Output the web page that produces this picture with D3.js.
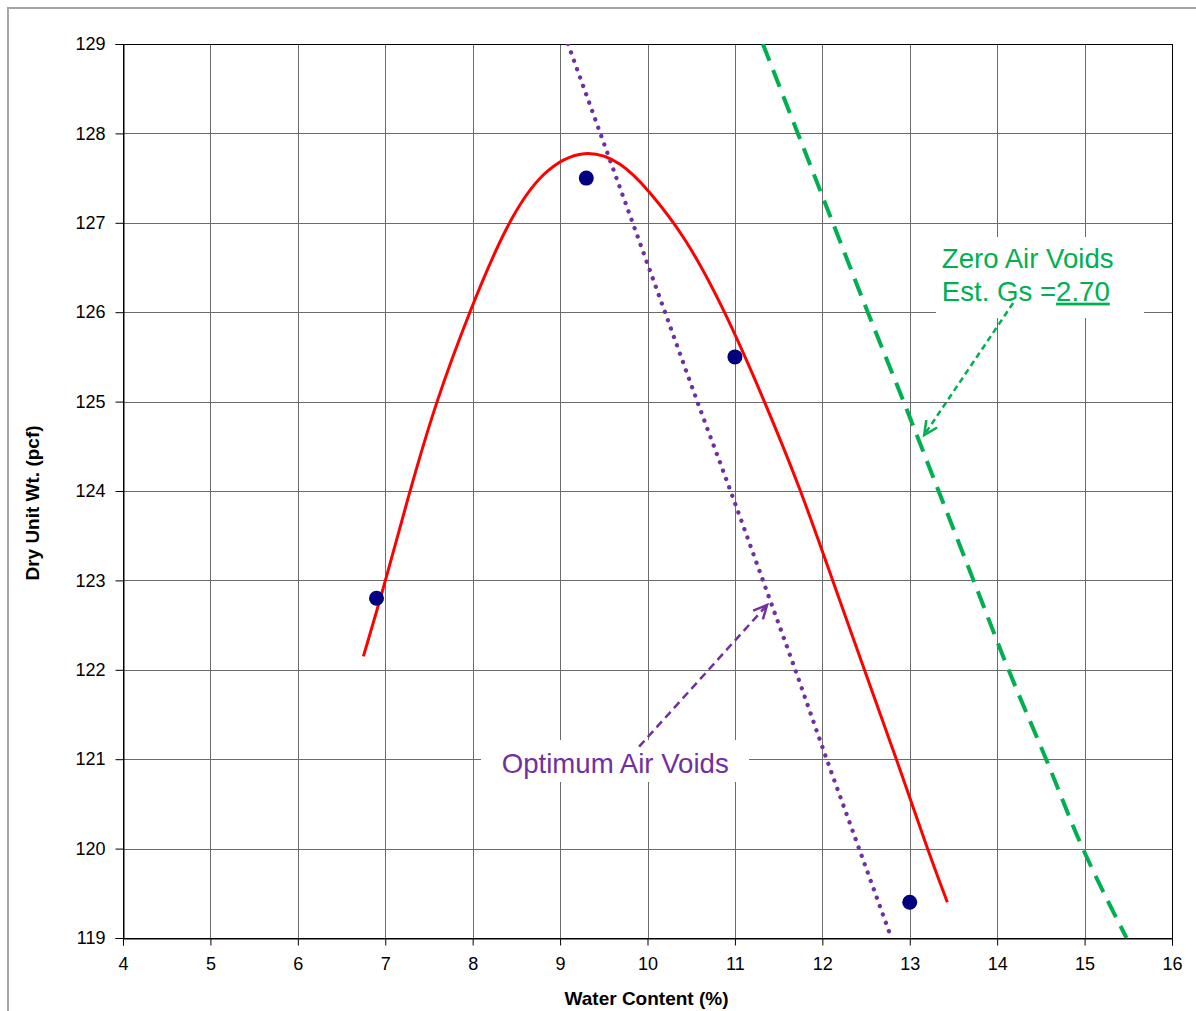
<!DOCTYPE html>
<html>
<head>
<meta charset="utf-8">
<script src="https://cdn.jsdelivr.net/npm/d3@7"></script>
<style>
  html, body { margin: 0; padding: 0; background: #fff; }
  svg { display: block; font-family: "Liberation Sans", Arial, sans-serif; }
</style>
</head>
<body>
<svg id="chart" width="1196" height="1011"></svg>
<script>
// ---------- data ----------
const xTicks = [4, 5, 6, 7, 8, 9, 10, 11, 12, 13, 14, 15, 16];
const yTicks = [119, 120, 121, 122, 123, 124, 125, 126, 127, 128, 129];

// test points
const waterContent = [6.9, 9.3, 11.0, 13.0];
const dryUnitWt    = [122.8, 127.5, 125.5, 119.4];

// fitted compaction curve
const fitW = [6.75, 7.0, 7.28, 7.58, 7.96, 8.39, 8.8, 9.29, 9.7, 10.0, 10.43, 10.87, 11.32, 11.74, 12.1, 12.48, 12.85, 13.2, 13.43];
const fitD = [122.15, 122.98, 124.0, 125.0, 126.0, 127.0, 127.6, 127.84, 127.68, 127.38, 126.85, 126.05, 125.05, 124.05, 123.05, 122.0, 121.0, 120.0, 119.4];

// optimum air voids line
const oavW = [9.09, 9.83, 10.2, 10.57, 10.95, 11.32, 11.69, 12.05, 12.42, 12.79];
const oavD = [129, 127, 126, 125, 124, 123, 122, 121, 120, 119];

// zero air voids line (Gs = 2.70)
const zavW = [11.32, 11.72, 12.12, 12.52, 12.93, 13.33, 13.73, 14.13, 14.56, 14.98, 15.48];
const zavD = [129, 128, 127, 126, 125, 124, 123, 122, 121, 120, 119];

// annotation texts
const zavLabelLines = ["Zero Air Voids", "Est. Gs ="];
const zavGs = "2.70";
const oavLabel = "Optimum Air Voids";
const xTitle = "Water Content (%)";
const yTitle = "Dry Unit Wt. (pcf)";

// ---------- layout ----------
const svg = d3.select("#chart");
const W = 1196, H = 1011;
const x = d3.scaleLinear().domain([4, 16]).range([123, 1172]);
const y = d3.scaleLinear().domain([119, 129]).range([938, 44]);

// outer chart-area border
svg.append("rect").attr("x", 8).attr("y", 8).attr("width", W + 20).attr("height", H + 20)
  .attr("fill", "#fff").attr("stroke", "#a6a6a6").attr("stroke-width", 2);

// grid
const grid = svg.append("g").attr("shape-rendering", "crispEdges");
grid.selectAll("line.v").data(xTicks.slice(1, -1)).join("line")
  .attr("x1", d => Math.round(x(d)) + 0.5).attr("x2", d => Math.round(x(d)) + 0.5)
  .attr("y1", y(129)).attr("y2", y(119)).attr("stroke", "#6b6b6b").attr("stroke-width", 1);
grid.selectAll("line.h").data(yTicks.slice(1, -1)).join("line")
  .attr("y1", d => Math.round(y(d)) + 0.5).attr("y2", d => Math.round(y(d)) + 0.5)
  .attr("x1", x(4)).attr("x2", x(16)).attr("stroke", "#6b6b6b").attr("stroke-width", 1);

// white label boxes (cover grid)
svg.append("rect").attr("x", x(13.30)).attr("y", y(126.841))
  .attr("width", x(15.68) - x(13.30)).attr("height", y(125.935) - y(126.841)).attr("fill", "#fff");
svg.append("rect").attr("x", x(8.096)).attr("y", y(121.215))
  .attr("width", x(11.162) - x(8.096)).attr("height", y(120.745) - y(121.215)).attr("fill", "#fff");

// plot frame
svg.append("rect").attr("x", x(4) + 0.5).attr("y", y(129) + 0.5)
  .attr("width", x(16) - x(4)).attr("height", y(119) - y(129))
  .attr("fill", "none").attr("stroke", "#000").attr("stroke-width", 1.2).attr("shape-rendering", "crispEdges");

// axes
const yAxis = d3.axisLeft(y).tickValues(yTicks).tickSize(8).tickPadding(10).tickFormat(d3.format("d"));
const xAxis = d3.axisBottom(x).tickValues(xTicks).tickSize(7).tickPadding(12).tickFormat(d3.format("d"));
const gy = svg.append("g").attr("transform", `translate(${x(4) + 0.5},0)`).call(yAxis);
const gx = svg.append("g").attr("transform", `translate(0,${y(119) + 0.5})`).call(xAxis);
[gx, gy].forEach(g => {
  g.select(".domain").attr("stroke", "#000");
  g.selectAll(".tick line").attr("stroke", "#000");
  g.selectAll(".tick text").attr("fill", "#000").style("font-size", "18px")
    .style("font-family", '"Liberation Sans", Arial, sans-serif');
});

// axis titles
svg.append("text").attr("x", (x(4) + x(16)) / 2 - 1).attr("y", 1005)
  .attr("text-anchor", "middle").style("font-size", "19px").style("font-weight", "bold").text(xTitle);
svg.append("text").attr("transform", `translate(39,503) rotate(-90)`)
  .attr("text-anchor", "middle").style("font-size", "19px").style("font-weight", "bold").text(yTitle);

// series
const line = d3.line().x(d => x(d[0])).y(d => y(d[1]));
svg.append("clipPath").attr("id", "plotclip").append("rect")
  .attr("x", x(4)).attr("y", y(129)).attr("width", x(16) - x(4)).attr("height", y(119) - y(129));

svg.append("path").datum(zavW.map((w, i) => [w, zavD[i]]))
  .attr("d", line.curve(d3.curveMonotoneY))
  .attr("fill", "none").attr("stroke", "#00B050").attr("stroke-width", 4)
  .attr("stroke-dasharray", "18,10").attr("clip-path", "url(#plotclip)");

svg.append("path").datum(oavW.map((w, i) => [w, oavD[i]]))
  .attr("d", line.curve(d3.curveMonotoneY))
  .attr("fill", "none").attr("stroke", "#7030A0").attr("stroke-width", 4.3)
  .attr("stroke-linecap", "round").attr("stroke-dasharray", "0.1,8.8").attr("clip-path", "url(#plotclip)");

svg.append("path").datum(fitW.map((w, i) => [w, fitD[i]]))
  .attr("d", line.curve(d3.curveBasis))
  .attr("fill", "none").attr("stroke", "#FF0000").attr("stroke-width", 3);

svg.selectAll("circle.pt").data(waterContent.map((w, i) => [w, dryUnitWt[i]])).join("circle")
  .attr("cx", d => x(d[0])).attr("cy", d => y(d[1])).attr("r", 7.5).attr("fill", "#000080");

// arrows
function arrow(x1, y1, x2, y2, color, dash) {
  const X1 = x(x1), Y1 = y(y1), X2 = x(x2), Y2 = y(y2);
  svg.append("line").attr("x1", X1).attr("y1", Y1).attr("x2", X2).attr("y2", Y2)
    .attr("stroke", color).attr("stroke-width", 2.5).attr("stroke-dasharray", dash);
  const ang = Math.atan2(Y2 - Y1, X2 - X1), L = 15, a = 0.45;
  const pts = [[X2 - L * Math.cos(ang - a), Y2 - L * Math.sin(ang - a)], [X2, Y2],
               [X2 - L * Math.cos(ang + a), Y2 - L * Math.sin(ang + a)]];
  svg.append("polyline").attr("points", pts.map(p => p.join(",")).join(" "))
    .attr("fill", "none").attr("stroke", color).attr("stroke-width", 2.5).attr("stroke-linejoin", "miter");
}
arrow(9.904, 121.14, 11.368, 122.725, "#7030A0", "8,5");
arrow(14.183, 126.103, 13.165, 124.626, "#00B050", "6,4");

// labels
svg.append("text").attr("x", x(8.333)).attr("y", y(120.846))
  .style("font-size", "27.6px").attr("fill", "#7030A0").text(oavLabel);
svg.append("text").attr("x", x(13.367)).attr("y", y(126.491))
  .style("font-size", "27.6px").attr("fill", "#00B050").text(zavLabelLines[0]);
const l2 = svg.append("text").attr("x", x(13.367)).attr("y", y(126.129))
  .style("font-size", "27.6px").attr("fill", "#00B050");
l2.append("tspan").text(zavLabelLines[1]);
l2.append("tspan").style("text-decoration", "underline").text(zavGs);
</script>
</body>
</html>
